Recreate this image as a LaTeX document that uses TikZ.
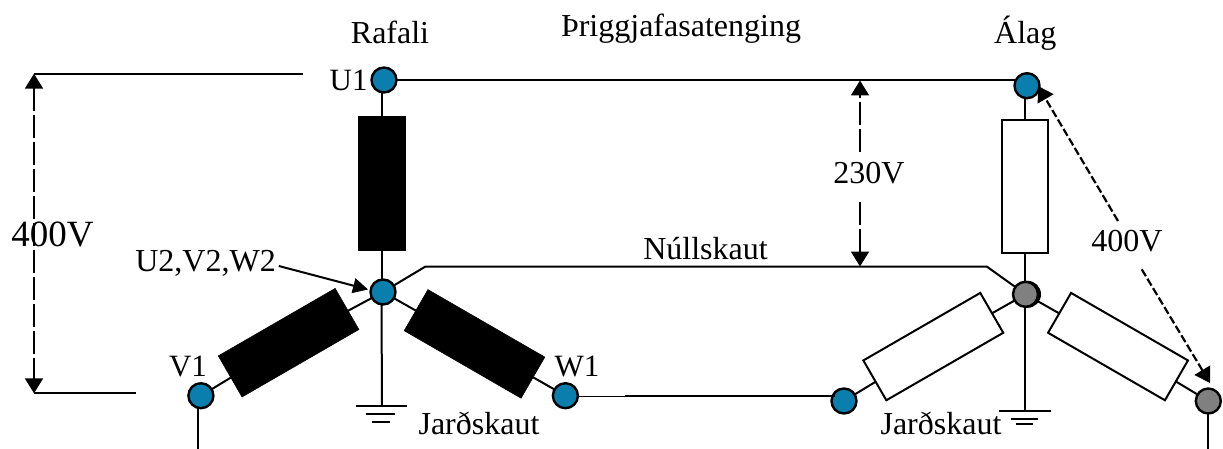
\documentclass[tikz,border=0pt]{standalone}
\usepackage{fontspec}
\setmainfont{Liberation Serif}
\usetikzlibrary{arrows.meta}
\definecolor{termblue}{HTML}{0A7FAD}
\definecolor{termgray}{HTML}{808080}
\tikzset{
  wire/.style={line width=2pt},
  thinwire/.style={line width=1pt},
  term/.style={circle,draw=black,line width=2.4pt,minimum size=25pt,inner sep=0pt,outer sep=0pt},
  blueterm/.style={term,fill=termblue},
  grayterm/.style={term,fill=termgray},
  coilblack/.style={rectangle,draw=black,fill=black,line width=0.5pt,minimum width=#1,minimum height=47.5pt,inner sep=0pt,outer sep=0pt},
  coilwhite/.style={rectangle,draw=black,fill=white,line width=2pt,minimum width=#1,minimum height=46pt,inner sep=0pt,outer sep=0pt},
  lab/.style={anchor=base,inner sep=0pt,outer sep=0pt,font=\fontsize{32}{32}\selectfont},
  smalllab/.style={anchor=base,inner sep=0pt,outer sep=0pt,font=\fontsize{31}{31}\selectfont},
  biglab/.style={anchor=base,inner sep=0pt,outer sep=0pt,font=\fontsize{37}{37}\selectfont},
  dim/.style={line width=2pt,dash pattern=on 23pt off 4pt,{Triangle[length=15pt,width=18pt]}-{Triangle[length=15pt,width=18pt]}},
  dimend/.style={line width=2pt,dash pattern=on 23pt off 4pt,-{Triangle[length=15pt,width=18pt]}},
  dotdim/.style={line width=2.2pt,dash pattern=on 8pt off 3pt,-{Triangle[length=15pt,width=18pt]}},
  pointer/.style={line width=2pt,-{Triangle[length=15pt,width=15pt]}}
}
\begin{document}
\begin{tikzpicture}[x=1pt,y=-1pt]
\useasboundingbox (0,0) rectangle (1223,449);
% free ends
\coordinate (refTopL) at (34,73.7);
\coordinate (refTopR) at (303,73.7);
\coordinate (refBotL) at (34,393.3);
\coordinate (refBotR) at (136,393.3);
\coordinate (nbendL) at (425.5,266.5);
\coordinate (nbendR) at (986.7,266.5);
\coordinate (gndA) at (382,406);
\coordinate (gndA2) at (382,414);
\coordinate (gndA3) at (382,422);
\coordinate (gndB) at (1025,411.3);
\coordinate (gndB2) at (1025,418.7);
\coordinate (gndB3) at (1025,424.3);
\coordinate (vEnd) at (198,449);
\coordinate (cEnd) at (1208.3,449);
\coordinate (wSplit) at (625,396);
\coordinate (d230T) at (860,80.5);
\coordinate (d230a) at (860,152);
\coordinate (d230b) at (860,202);
\coordinate (d230B) at (860,266.5);
\coordinate (dR1) at (1118,221);
\coordinate (dR1t) at (1038,86);
\coordinate (dR2) at (1141.7,269.3);
\coordinate (dR2t) at (1210,383);
\coordinate (ptrS) at (278.8,266);
\coordinate (ptrT) at (368,289.5);

% coils
\node[coilblack=134pt,rotate=90] (gU) at (381.5,183.7) {};
\node[coilblack=135pt,rotate=30] (gV) at (288.6,342.7) {};
\node[coilblack=135pt,rotate=-30] (gW) at (474.5,343.9) {};
\node[coilwhite=133pt,rotate=90] (lU) at (1025,186.4) {};
\node[coilwhite=135pt,rotate=30] (lV) at (933.3,346.6) {};
\node[coilwhite=135pt,rotate=-30] (lW) at (1118,346.6) {};

% terminals
\node[blueterm] (U1) at (384,80) {};
\node[blueterm] (N) at (383,292) {};
\node[blueterm] (V1) at (200.9,395.7) {};
\node[blueterm] (W1) at (565.4,395.7) {};
\node[blueterm] (A) at (1027,85.7) {};
\node[blueterm] (B) at (844,401) {};
\node[circle,fill=black,minimum size=27pt,inner sep=0pt] (Lshadow) at (1027.5,294.3) {};
\node[grayterm] (L) at (1025.5,294.3) {};
\node[grayterm] (C) at (1208.3,401) {};

% wires
\draw[wire] (U1.east) -- ([xshift=-10.5pt]A |- U1.east);
\draw[wire] (gU |- U1.south) -- (gU.east);
\draw[wire] (gU.west) -- (gU |- N.north);
\draw[wire] (N) -- (nbendL) -- (nbendR) -- (L);
\draw[wire] (gU |- N.south) -- (gndA);
\draw[wire] (N) -- (gV);
\draw[wire] (gV) -- (V1);
\draw[wire] (N) -- (gW);
\draw[wire] (gW) -- (W1);
\draw[wire] (vEnd |- V1.south) -- (vEnd);
\draw[thinwire] (W1.east |- wSplit) -- (wSplit);
\draw[wire] (wSplit) -- (B.north west |- wSplit);
\draw[wire] (A.south -| lU) -- (lU.east);
\draw[wire] (lU.west) -- (lU |- L.north);
\draw[wire] (lU |- L.south) -- (gndB);
\draw[wire] (L) -- (lV);
\draw[wire] (lV) -- (B);
\draw[wire] (L) -- (lW);
\draw[wire] (lW) -- (C);
\draw[wire] (C) -- (cEnd);

% ground symbols
\draw[wire] ([xshift=-26pt]gndA) -- ([xshift=25pt]gndA);
\draw[wire] ([xshift=-16pt]gndA2) -- ([xshift=13pt]gndA2);
\draw[wire] ([xshift=-10pt]gndA3) -- ([xshift=7.5pt]gndA3);
\draw[wire] ([xshift=-25.7pt]gndB) -- ([xshift=25.7pt]gndB);
\draw[wire] ([xshift=-14.3pt]gndB2) -- ([xshift=13.3pt]gndB2);
\draw[wire] ([xshift=-9pt]gndB3) -- ([xshift=7.7pt]gndB3);

% dimension lines
\draw[wire] (refTopL) -- (refTopR);
\draw[wire] (refBotL) -- (refBotR);
\draw[dim] (refTopL) -- (refBotL);
\draw[dimend] (d230a) -- (d230T);
\draw[dimend] (d230b) -- (d230B);
\draw[dotdim] (dR1) -- (dR1t);
\draw[dotdim] (dR2) -- (dR2t);
\draw[pointer] (ptrS) -- (ptrT);

% labels
\node[lab] (tRafali) at (390,44) {Rafali};
\node[lab] (tTitle) at (681,37) {Þriggjafasatenging};
\node[lab] (tAlag) at (1025.3,44) {Álag};
\node[smalllab] (tU1) at (348.6,91) {U1};
\node[smalllab] (tV1) at (188,376.7) {V1};
\node[smalllab] (tW1) at (577,376.7) {W1};
\node[biglab] (t400L) at (52.5,246.7) {400V};
\node[lab] (tU2) at (205.6,271) {U2,V2,W2};
\node[lab] (tNull) at (705.5,259) {Núllskaut};
\node[lab] (t230) at (869,184) {230V};
\node[lab] (t400R) at (1127,251.7) {400V};
\node[lab] (tJ1) at (479,434) {Jarðskaut};
\node[lab] (tJ2) at (941,434) {Jarðskaut};
\end{tikzpicture}
\end{document}
